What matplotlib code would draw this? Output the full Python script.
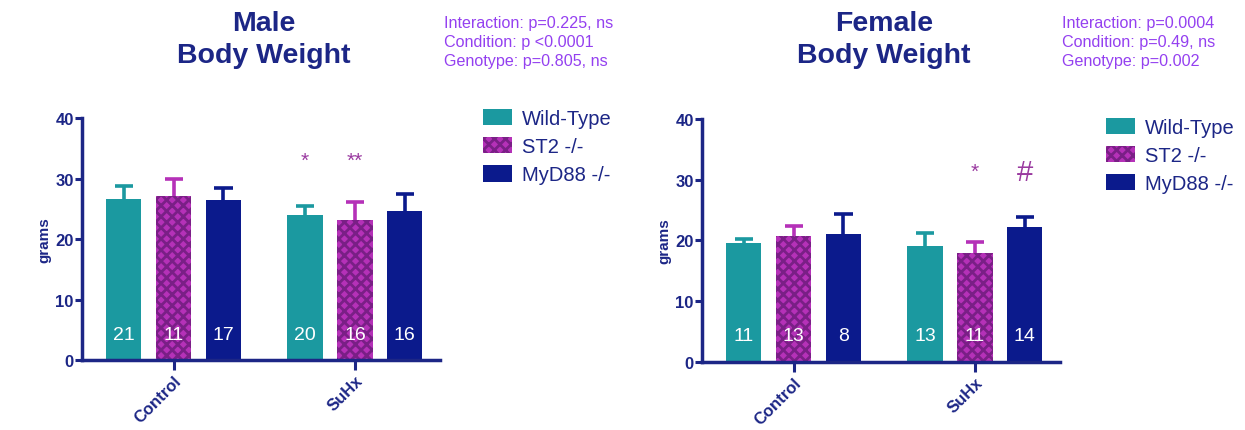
import matplotlib
matplotlib.use('Agg')
import matplotlib.pyplot as plt
import numpy as np

plt.rcParams['font.family'] = ['Liberation Sans', 'DejaVu Sans']
plt.rcParams['hatch.linewidth'] = 2.0

# group labels and genotypes
conditions = ['Control', 'SuHx']
genotypes = ['Wild-Type', 'ST2 -/-', 'MyD88 -/-']

# male body weight (grams): mean and upper error per genotype, per condition
male_mean = {'Wild-Type': [26.6, 24.0], 'ST2 -/-': [27.1, 23.2], 'MyD88 -/-': [26.4, 24.6]}
male_err = {'Wild-Type': [2.2, 1.5], 'ST2 -/-': [2.9, 2.9], 'MyD88 -/-': [2.0, 2.8]}
male_n = {'Wild-Type': [21, 20], 'ST2 -/-': [11, 16], 'MyD88 -/-': [17, 16]}

# female body weight (grams)
female_mean = {'Wild-Type': [19.6, 19.1], 'ST2 -/-': [20.7, 18.0], 'MyD88 -/-': [21.1, 22.2]}
female_err = {'Wild-Type': [0.7, 2.1], 'ST2 -/-': [1.7, 1.8], 'MyD88 -/-': [3.2, 1.7]}
female_n = {'Wild-Type': [11, 13], 'ST2 -/-': [13, 11], 'MyD88 -/-': [8, 14]}

male_stats = ['Interaction: p=0.225, ns', 'Condition: p <0.0001', 'Genotype: p=0.805, ns']
female_stats = ['Interaction: p=0.0004', 'Condition: p=0.49, ns', 'Genotype: p=0.002']

# significance marks: (genotype, condition index, symbol, y)
male_marks = [('Wild-Type', 1, '*', 33.0), ('ST2 -/-', 1, '**', 33.0)]
female_marks = [('ST2 -/-', 1, '*', 31.3), ('MyD88 -/-', 1, '#', 31.3)]

navy = '#1c2686'
colors = {'Wild-Type': '#1b99a0', 'ST2 -/-': '#b531b8', 'MyD88 -/-': '#0b1a8c'}
hatch_col = '#7a1f86'
mark_col = '#9a3aa0'
stat_col = '#9440f0'

offsets = {'Wild-Type': -0.275, 'ST2 -/-': 0.0, 'MyD88 -/-': 0.275}
width = 0.195
cap = 0.05

fig = plt.figure(figsize=(12.45, 4.31), dpi=100)


def panel(rect, title, title_x, stats, stats_x, means, errs, ns, marks, leg_xy):
    ax = fig.add_axes(rect)
    x = np.arange(len(conditions))
    handles = []
    for g in genotypes:
        pos = x + offsets[g]
        m = np.array(means[g])
        top = m + np.array(errs[g])
        if g == 'ST2 -/-':
            b = ax.bar(pos, m, width, color=colors[g], edgecolor=hatch_col,
                       linewidth=0, hatch='xxx', zorder=2)
        else:
            b = ax.bar(pos, m, width, color=colors[g], linewidth=0, zorder=2)
        handles.append(b)
        # upper error bars only
        ax.vlines(pos, m, top, color=colors[g], linewidth=2.6, zorder=1)
        ax.hlines(top, pos - cap, pos + cap, color=colors[g], linewidth=2.6, zorder=1)
        for xi, n in zip(pos, ns[g]):
            ax.text(xi, 4.3, str(n), color='white', fontsize=14, ha='center', va='center', zorder=3)
    for g, ci, sym, yv in marks:
        fs = 21 if sym == '#' else 15
        ax.text(x[ci] + offsets[g], yv, sym, color=mark_col, fontsize=fs, ha='center', va='center')

    ax.set_xlim(-0.505, 1.47)
    ax.set_ylim(0, 40)
    ax.set_yticks([0, 10, 20, 30, 40])
    ax.set_xticks(x)
    ax.set_xticklabels(conditions, rotation=45, ha='right', rotation_mode='anchor',
                       fontweight='bold', color=navy, fontsize=12)
    for lab in ax.get_yticklabels():
        lab.set_fontweight('bold')
        lab.set_color(navy)
        lab.set_fontsize(12)
    ax.tick_params(axis='y', colors=navy, width=2.2, length=5, pad=1)
    ax.tick_params(axis='x', colors=navy, width=2.2, length=7, pad=2)
    for s in ['top', 'right']:
        ax.spines[s].set_visible(False)
    for s in ['left', 'bottom']:
        ax.spines[s].set_color(navy)
        ax.spines[s].set_linewidth(2.5)
    ax.set_ylabel('grams', fontweight='bold', color=navy, fontsize=11, labelpad=3)

    fig.text(title_x, 0.975, title, ha='center', va='top', fontsize=20.5,
             fontweight='bold', color=navy, linespacing=1.3)
    fig.text(stats_x, 0.962, '\n'.join(stats), ha='left', va='top', fontsize=11.6,
             color=stat_col, linespacing=1.32)

    leg = ax.legend(handles, genotypes, loc='upper left', bbox_to_anchor=leg_xy,
                    bbox_transform=fig.transFigure, frameon=False, fontsize=14.5,
                    handlelength=1.45, handleheight=0.85, labelspacing=0.45,
                    handletextpad=0.5, borderaxespad=0, borderpad=0)
    for t in leg.get_texts():
        t.set_color(navy)
    return ax


panel([0.0659, 0.162, 0.2876, 0.5615], 'Male\nBody Weight', 0.212, male_stats, 0.357,
      male_mean, male_err, male_n, male_marks, (0.388, 0.744))
panel([0.5639, 0.158, 0.2876, 0.5638], 'Female\nBody Weight', 0.710, female_stats, 0.853,
      female_mean, female_err, female_n, female_marks, (0.888, 0.724))

fig.savefig('out.png', dpi=100)
